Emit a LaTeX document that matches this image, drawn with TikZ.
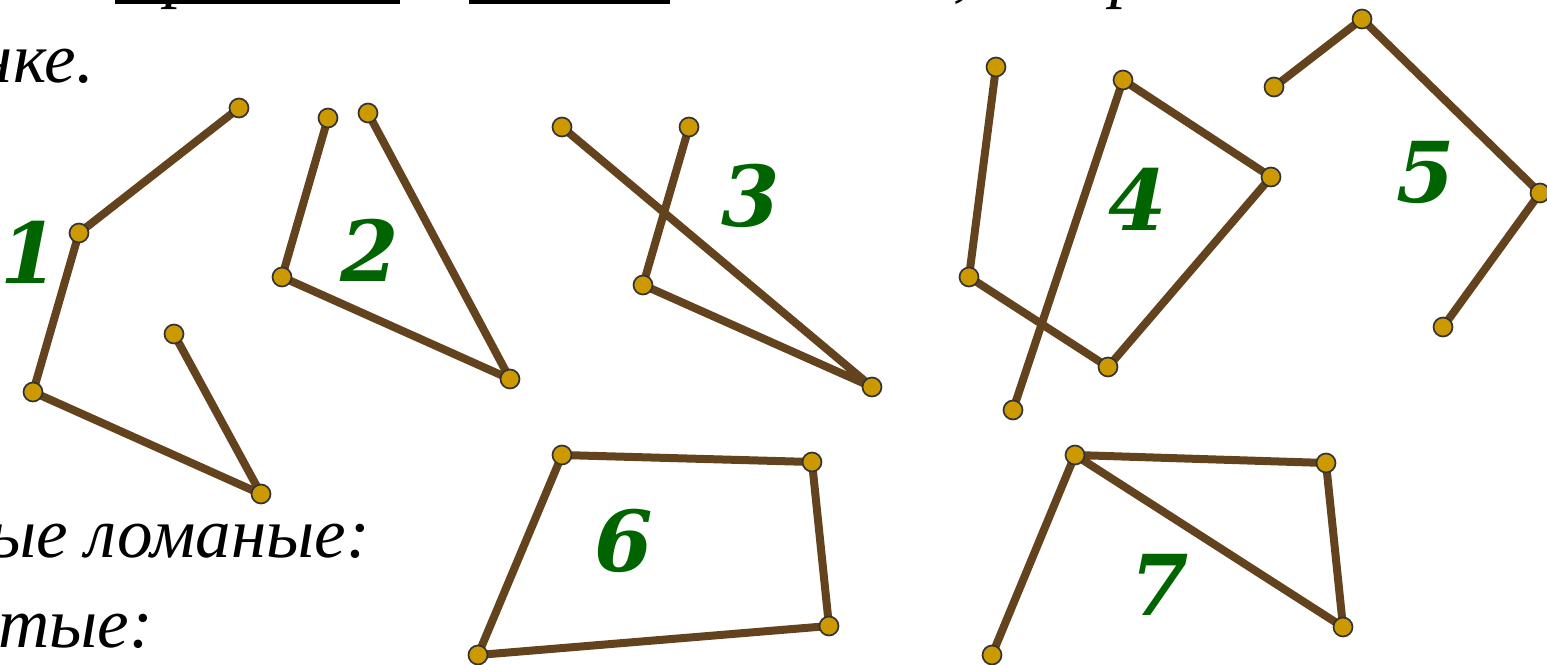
\documentclass[tikz,border=0pt]{standalone}
\usepackage{fontspec}
\setmainfont{Liberation Serif}
\newfontfamily\digitfont{DejaVu Serif}
\definecolor{segbrown}{HTML}{63421E}
\definecolor{dotgold}{HTML}{CC9900}
\definecolor{dotrim}{HTML}{333333}
\definecolor{numgreen}{HTML}{006400}
\begin{document}
\begin{tikzpicture}[x=1pt,y=-1pt,
  seg/.style={draw=segbrown,line width=8pt,line join=round},
  dot/.style={circle,inner sep=0pt,minimum size=19pt,fill=dotgold,draw=dotrim,line width=1.7pt},
  num/.style={text=numgreen,font=\digitfont\bfseries\itshape\fontsize{84}{84}\selectfont,inner sep=0pt},
  txt/.style={font=\itshape\fontsize{71}{75}\selectfont,inner sep=0pt},
  uline/.style={draw=black,line width=4pt}]
\useasboundingbox (0,0) rectangle (1547,664);
% cut-off text of the page
\draw[uline] (115,1.5) -- (400,1.5);
\draw[uline] (469,1.5) -- (670,1.5);
\node[txt,anchor=base] (tp1) at (183,-6) {р};
\node[txt,anchor=base] (tp2) at (962,-7) {,};
\node[txt,anchor=base] (tp3) at (1128,-6) {р};
\node[txt,anchor=base east] (t1) at (94,82) {нке.};
\node[txt,anchor=base east] (t2) at (370,557) {ые ломаные:};
\node[txt,anchor=base east] (t3) at (153,647) {тые:};
% figure 1
\coordinate (a1) at (239,108); \coordinate (a2) at (79,233); \coordinate (a3) at (33,392);
\coordinate (a4) at (261,494); \coordinate (a5) at (174,334);
\draw[seg] (a1) -- (a2) -- (a3) -- (a4) -- (a5);
% figure 2
\coordinate (b1) at (328,118); \coordinate (b2) at (282,277); \coordinate (b3) at (510,379);
\coordinate (b4) at (368,113);
\draw[seg] (b1) -- (b2) -- (b3) -- (b4);
% figure 3
\coordinate (c1) at (562,127); \coordinate (c2) at (872,387); \coordinate (c3) at (643,285);
\coordinate (c4) at (689,127);
\draw[seg] (c1) -- (c2) -- (c3) -- (c4);
% figure 4
\coordinate (d1) at (996,67); \coordinate (d2) at (969,277); \coordinate (d3) at (1108,367);
\coordinate (d4) at (1271,177); \coordinate (d5) at (1123,80); \coordinate (d6) at (1013,410);
\draw[seg] (d1) -- (d2) -- (d3) -- (d4) -- (d5) -- (d6);
% figure 5
\coordinate (e1) at (1274,87); \coordinate (e2) at (1362,19); \coordinate (e3) at (1540,193);
\coordinate (e4) at (1443,327);
\draw[seg] (e1) -- (e2) -- (e3) -- (e4);
% figure 6
\coordinate (f1) at (562,455); \coordinate (f2) at (812,462); \coordinate (f3) at (829,626);
\coordinate (f4) at (478,655);
\draw[seg] (f1) -- (f2) -- (f3) -- (f4) -- cycle;
% figure 7
\coordinate (g1) at (992,655); \coordinate (g2) at (1075,455); \coordinate (g3) at (1326,463);
\coordinate (g4) at (1343,627);
\draw[seg] (g1) -- (g2) -- (g3) -- (g4) -- (g2);
% dots
\foreach \p in {a1,a2,a3,a4,a5,b1,b2,b3,b4,c1,c2,c3,c4,d1,d2,d3,d4,d5,d6,e1,e2,e3,e4,f1,f2,f3,f4,g1,g2,g3,g4}
  \node[dot] (dot-\p) at (\p) {};
% labels
\node[num] (n1) at (30,252) {1};
\node[num] (n2) at (370,250) {2};
\node[num] (n3) at (751,196) {3};
\node[num] (n4) at (1138,199) {4};
\node[num] (n5) at (1426,172) {5};
\node[num] (n6) at (624,541) {6};
\node[num] (n7) at (1160,585) {7};
\end{tikzpicture}
\end{document}
